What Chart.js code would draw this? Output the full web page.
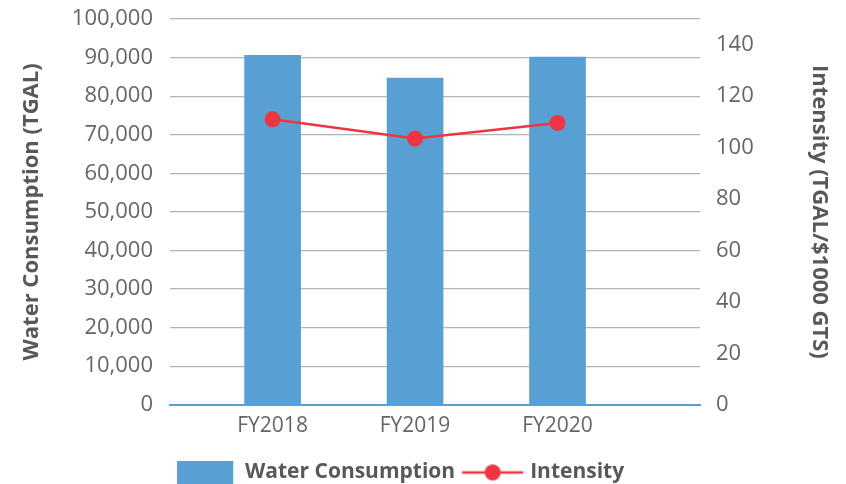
<!DOCTYPE html>
<html>
<head>
<meta charset="utf-8">
<script src="https://cdn.jsdelivr.net/npm/chart.js@4"></script>
<style>
  html, body { margin: 0; padding: 0; background: #fff; }
  #wrap { width: 846px; height: 484px; }
</style>
</head>
<body>
<div id="wrap"><canvas id="myChart"></canvas></div>
<script>
/*----data----*/
const categories = ["FY2018", "FY2019", "FY2020"];
const waterConsumption = [90600, 84700, 90100];
const intensity = [111.0, 103.5, 109.6];
const leftTicks = [0, 10000, 20000, 30000, 40000, 50000, 60000, 70000, 80000, 90000, 100000];
const rightTicks = [0, 20, 40, 60, 80, 100, 120, 140];

const blue = "#589fd3";
const red = "#ee3642";
const tickColor = "#64666b";
const titleColor = "#57585b";

/*----legend images----*/
function barSwatch(){
  const c = document.createElement("canvas");
  c.width = 64; c.height = 24;
  const g = c.getContext("2d");
  g.fillStyle = blue;
  g.fillRect(0, 0, 56, 24);
  return c;
}
function lineSwatch(){
  const c = document.createElement("canvas");
  c.width = 66; c.height = 20;
  const g = c.getContext("2d");
  g.strokeStyle = red;
  g.lineWidth = 2.5;
  g.beginPath(); g.moveTo(0.75, 10); g.lineTo(61.75, 10); g.stroke();
  g.fillStyle = red;
  g.beginPath(); g.arc(31.25, 10, 8, 0, Math.PI * 2); g.fill();
  return c;
}
const swatches = [barSwatch(), lineSwatch()];

/*----graph----*/
new Chart("myChart", {
  data: {
    datasets: [{
      type: "bar",
      label: "Water Consumption",
      data: waterConsumption.map((v, i) => ({x: i, y: v})),
      backgroundColor: blue,
      barThickness: 56,
      yAxisID: "y",
      order: 1
    }, {
      type: "line",
      label: "Intensity",
      data: intensity.map((v, i) => ({x: i, y: v})),
      borderColor: red,
      backgroundColor: red,
      borderWidth: 2.5,
      pointRadius: 8,
      pointHoverRadius: 8,
      pointBorderWidth: 0,
      fill: false,
      yAxisID: "y1",
      order: 0
    }]
  },
  options: {
    responsive: true,
    maintainAspectRatio: false,
    animation: false,
    layout: {padding: {left: 18, right: 14, top: 19, bottom: -9}},
    scales: {
      x: {
        type: "linear",
        min: -0.72,
        max: 3.0,
        offset: false,
        afterBuildTicks: (axis) => { axis.ticks = categories.map((c, i) => ({value: i})); },
        ticks: {
          callback: (v) => categories[v],
          color: tickColor,
          font: {family: "'Open Sans'", size: 21},
          padding: 9,
          autoSkip: false,
          maxRotation: 0
        },
        grid: {display: false, offset: false, drawTicks: false},
        border: {color: blue, width: 2}
      },
      y: {
        position: "left",
        min: 0,
        max: 100000,
        afterBuildTicks: (axis) => { axis.ticks = leftTicks.map(v => ({value: v})); },
        afterFit: (axis) => { axis.width = 152; axis.paddingTop = 0; axis.paddingBottom = 0; },
        ticks: {
          callback: (v) => v.toLocaleString("en-US"),
          color: tickColor,
          font: {family: "'Open Sans'", size: 22},
          padding: 17
        },
        grid: {color: "#b4b4b4", lineWidth: 1.2, drawTicks: false},
        border: {display: false},
        title: {
          display: true,
          text: "Water Consumption (TGAL)",
          color: titleColor,
          font: {family: "'Open Sans'", size: 22, weight: "bold"},
          padding: {top: 1, bottom: 0}
        }
      },
      y1: {
        position: "right",
        min: 0,
        max: 150,
        afterBuildTicks: (axis) => { axis.ticks = rightTicks.map(v => ({value: v})); },
        afterFit: (axis) => { axis.width = 132; axis.paddingTop = 0; axis.paddingBottom = 0; },
        ticks: {
          color: tickColor,
          font: {family: "'Open Sans'", size: 22},
          padding: 16
        },
        grid: {display: false, drawTicks: false},
        border: {display: false},
        title: {
          display: true,
          text: "Intensity (TGAL/$1000 GTS)",
          color: titleColor,
          font: {family: "'Open Sans'", size: 22, weight: "bold"},
          padding: {top: 0, bottom: 2}
        }
      }
    },
    plugins: {
      tooltip: {enabled: false},
      legend: {
        position: "bottom",
        align: "start",
        fullSize: false,
        labels: {
          usePointStyle: true,
          pointStyleWidth: 50.5,
          padding: 14,
          color: titleColor,
          font: {family: "'Open Sans'", size: 21, weight: "bold"},
          sort: (a, b) => a.datasetIndex - b.datasetIndex,
          generateLabels: (chart) => {
            const items = Chart.defaults.plugins.legend.labels.generateLabels(chart);
            items.forEach(it => { it.pointStyle = swatches[it.datasetIndex]; });
            return items;
          }
        }
      }
    }
  }
});
</script>
</body>
</html>
